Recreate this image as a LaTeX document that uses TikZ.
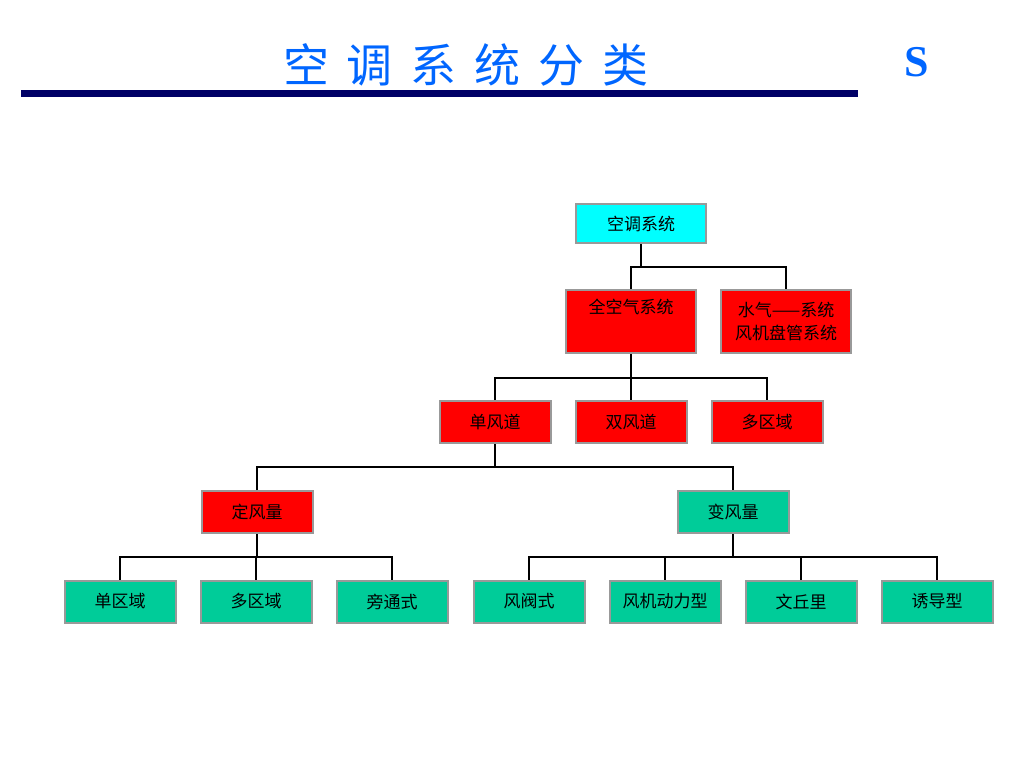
\documentclass[tikz,border=0pt]{standalone}
\usepackage{fontspec}
\setmainfont{Liberation Serif}
\newfontfamily\cjk{Noto Sans CJK SC}
\definecolor{titleblue}{RGB}{0,102,255}
\definecolor{barnavy}{RGB}{0,0,102}
\definecolor{boxgray}{RGB}{153,153,153}
\definecolor{boxred}{RGB}{255,0,0}
\definecolor{boxgreen}{RGB}{0,204,153}
\definecolor{boxcyan}{RGB}{0,255,255}
\begin{document}
\begin{tikzpicture}[x=1pt,y=-1pt,
  box/.style={draw=boxgray, line width=2pt, inner sep=0pt, align=center,
    font=\cjk\fontsize{17}{23}\selectfont, text=black},
  sbox/.style={box, minimum width=111pt, minimum height=42pt},
  redbox/.style={sbox, fill=boxred},
  greenbox/.style={sbox, fill=boxgreen},
  wire/.style={draw=black, line width=2pt}]
\useasboundingbox (0,0) rectangle (1024,768);
\fill[white] (0,0) rectangle (1024,768);
% title
\node[font=\cjk\fontsize{46}{50}\selectfont, text=titleblue, inner sep=0pt] (title) at (466,65)
  {空\hspace{18pt}调\hspace{18pt}系\hspace{18pt}统\hspace{18pt}分\hspace{18pt}类};
\node[font=\fontsize{44}{48}\selectfont\bfseries, text=titleblue, inner sep=0pt] (s) at (917,62) {S};
\fill[barnavy] (21,90) rectangle (858,97);
% level 0
\node[box, fill=boxcyan, minimum width=130pt, minimum height=39pt] (root) at (641,223.5) {空调系统};
% level 1
\node[box, fill=boxred, minimum width=130pt, minimum height=63pt] (qkq) at (631,321.5) {全空气系统\\\strut};
\node[box, fill=boxred, minimum width=130pt, minimum height=63pt] (sq) at (786,321.5) {水气——系统\\风机盘管系统};
% level 2
\node[redbox] (dfd) at (495,422) {单风道};
\node[redbox] (sfd) at (631,422) {双风道};
\node[redbox] (dqy) at (767,422) {多区域};
% level 3
\node[redbox] (dfl) at (257,512) {定风量};
\node[greenbox] (bfl) at (733,512) {变风量};
% level 4
\node[greenbox] (a1) at (120,601.5) {单区域};
\node[greenbox] (a2) at (256,601.5) {多区域};
\node[greenbox] (a3) at (392,601.5) {旁通式};
\node[greenbox] (b1) at (529,601.5) {风阀式};
\node[greenbox] (b2) at (665,601.5) {风机动力型};
\node[greenbox] (b3) at (801,601.5) {文丘里};
\node[greenbox] (b4) at (937,601.5) {诱导型};
% bus coordinates
\coordinate (j0) at (641,267);
\coordinate (j1) at (631,378);
\coordinate (j2) at (495,467);
\coordinate (j3) at (257,557);
\coordinate (j4) at (733,557);
% connectors
\draw[wire] (root.south) -- (j0);
\draw[wire] (qkq.north) |- (j0) -| (sq.north);
\draw[wire] (qkq.south) -- (j1);
\draw[wire] (dfd.north) |- (j1) -| (dqy.north);
\draw[wire] (j1) -- (sfd.north);
\draw[wire] (dfd.south) -- (j2);
\draw[wire] (dfl.north) |- (j2) -| (bfl.north);
\draw[wire] (dfl.south) -- (j3);
\draw[wire] (a1.north) |- (j3) -| (a3.north);
\draw[wire] (a2.north) |- (j3);
\draw[wire] (bfl.south) -- (j4);
\draw[wire] (b1.north) |- (j4) -| (b4.north);
\draw[wire] (b2.north) |- (j4);
\draw[wire] (b3.north) |- (j4);
\end{tikzpicture}
\end{document}
